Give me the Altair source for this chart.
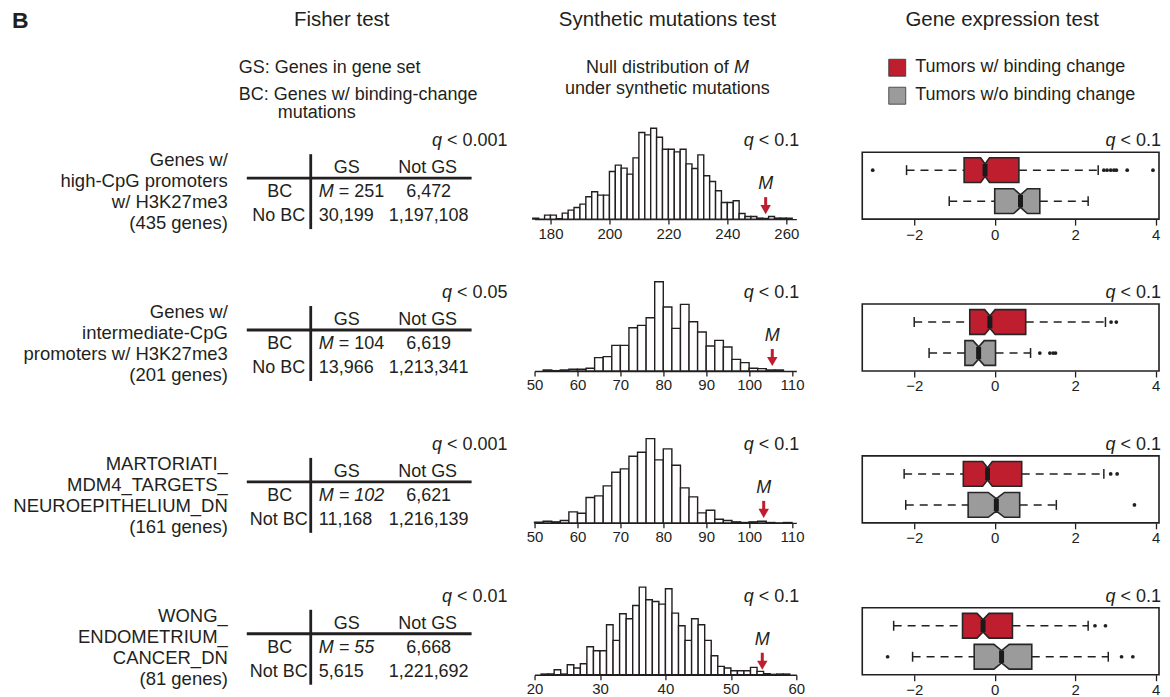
import altair as alt
import pandas as pd

FONT = "Liberation Sans"
RED = "#BE1E2D"
GRAY = "#9B9B9B"
INK = "#231F20"

# ---------------- data ----------------
row_labels = [
    "Genes w/\nhigh-CpG promoters\nw/ H3K27me3\n(435 genes)",
    "Genes w/\nintermediate-CpG\npromoters w/ H3K27me3\n(201 genes)",
    "MARTORIATI_\nMDM4_TARGETS_\nNEUROEPITHELIUM_DN\n(161 genes)",
    "WONG_\nENDOMETRIUM_\nCANCER_DN\n(81 genes)",
]
fisher_q = ["0.001", "0.05", "0.001", "0.01"]
nobc_label = ["No BC", "No BC", "Not BC", "Not BC"]
M_values = [251, 104, 102, 55]
M_italic = [False, False, True, True]
bc_notgs = [6472, 6619, 6621, 6668]
nobc_gs = [30199, 13966, 11168, 5615]
nobc_notgs = [1197108, 1213341, 1216139, 1221692]

synth_q = ["0.1", "0.1", "0.1", "0.1"]
expr_q = ["0.1", "0.1", "0.1", "0.1"]

hist_start = [174, 52, 50, 21]
hist_binw = [2, 2, 2, 1]
hist_counts = [
    [3, 0, 12, 12, 1, 18, 27, 35, 45, 67, 82, 72, 72, 143, 162, 153, 135, 184, 260, 253,
     273, 246, 210, 210, 202, 210, 166, 152, 193, 130, 113, 85, 50, 50, 55, 17, 8, 8, 3, 2,
     8, 3, 3, 3],
    [3, 1, 3, 5, 5, 8, 40, 43, 77, 77, 130, 137, 160, 268, 192, 128, 200, 148, 117, 75,
     92, 72, 35, 25, 8, 7, 3, 3],
    [2, 5, 3, 7, 33, 29, 76, 81, 111, 152, 162, 200, 212, 253, 189, 222, 173, 105, 78, 30,
     38, 11, 7, 3, 1, 3, 5, 1, 0, 1],
    [2, 2, 15, 2, 30, 20, 33, 84, 72, 72, 150, 103, 183, 168, 208, 263, 225, 220, 212, 258,
     185, 147, 103, 168, 150, 103, 57, 25, 20, 12, 12, 12, 22, 10, 3, 1, 2, 2],
]
hist_domain = [[174.6, 263.4], [50, 111], [50, 111], [20, 60]]
hist_ticks = [[180, 200, 220, 240, 260],
              [50, 60, 70, 80, 90, 100, 110],
              [50, 60, 70, 80, 90, 100, 110],
              [20, 30, 40, 50, 60]]
arrow_pos = [253, 105.4, 103.4, 54.8]

# boxplot stats: whisker_lo, q1, median, q3, whisker_hi, notch half-width
box_bc = [
    [-2.19, -0.76, -0.24, 0.60, 2.57, 0.11],
    [-2.00, -0.62, -0.12, 0.77, 2.75, 0.13],
    [-2.25, -0.78, -0.18, 0.67, 2.71, 0.12],
    [-2.51, -0.80, -0.29, 0.44, 2.32, 0.15],
]
box_nobc = [
    [-1.13, 0.00, 0.64, 1.12, 2.32, 0.17],
    [-1.63, -0.74, -0.40, 0.02, 0.89, 0.14],
    [-2.21, -0.66, 0.04, 0.62, 1.53, 0.20],
    [-2.04, -0.51, 0.17, 0.92, 2.82, 0.19],
]
out_bc = [[-3.03, 2.71, 2.79, 2.88, 2.96, 3.02, 3.29, 3.93],
          [2.89, 3.02], [2.88, 3.04], [2.49, 2.75]]
out_nobc = [[], [1.12, 1.37, 1.45, 1.51], [3.47], [-2.66, 3.15, 3.43]]

legend_labels = ["Tumors w/ binding change", "Tumors w/o binding change"]

# ---------------- layout ----------------
COLW = [173, 222, 262, 297]
ROWH = 67
HEADH = 59
ONE = pd.DataFrame({"d": [0]})

AW = {" ": 278, ",": 278, ".": 278, "<": 584, "=": 584, "M": 833, "N": 722, "q": 556,
      "a": 556, "b": 556, "c": 500, "d": 556, "e": 556, "f": 278, "g": 556, "h": 556,
      "i": 222, "j": 222, "k": 500, "l": 222, "m": 833, "n": 556, "o": 556, "p": 556,
      "r": 333, "s": 500, "t": 278, "u": 556, "v": 500, "w": 722, "x": 500, "y": 500,
      "z": 500}
for ch in "0123456789":
    AW[ch] = 556


def tw(s, size):
    return sum(AW.get(c, 556) for c in s) * size / 1000.0


def T(text, x, y, size=18, align="left", style="normal", weight="normal",
      baseline="middle", color=INK, lineHeight=None):
    kw = dict(align=align, baseline=baseline, fontSize=size, fontStyle=style,
              fontWeight=weight, font=FONT, color=color)
    if lineHeight:
        kw["lineBreak"] = "\n"
        kw["lineHeight"] = lineHeight
    return alt.Chart(pd.DataFrame({"t": [text]})).mark_text(**kw).encode(
        x=alt.value(x), y=alt.value(y), text="t:N")


def qlabel(q, xr, y, size=18):
    rest = "< " + q
    return [T(rest, xr, y, size=size, align="right"),
            T("q", xr - tw(rest, size) - tw(" ", size), y, size=size,
              align="right", style="italic")]


def hrule(x1, x2, y, w=2.8):
    return alt.Chart(ONE).mark_rule(color=INK, strokeWidth=w).encode(
        x=alt.value(x1), x2=alt.value(x2), y=alt.value(y))


def vrule(x, y1, y2, w=2.8):
    return alt.Chart(ONE).mark_rule(color=INK, strokeWidth=w).encode(
        x=alt.value(x), y=alt.value(y1), y2=alt.value(y2))


def fmt(n):
    return f"{n:,}"


# ---------------- header ----------------
def header_cells():
    h1 = alt.layer(T("B", 4, 13, size=23, weight="bold")).properties(
        width=COLW[0], height=HEADH)
    h2 = alt.layer(
        T("Fisher test", 95, 12, size=20.5, align="center"),
        T("GS: Genes in gene set", -8, 60),
        T("BC: Genes w/ binding-change", -8, 87),
        T("mutations", 31, 105),
    ).properties(width=COLW[1], height=HEADH)
    base = "Null distribution of"
    tot = tw(base + " M", 18)
    x0 = 133 - tot / 2
    h3 = alt.layer(
        T("Synthetic mutations test", 133, 12, size=20.5, align="center"),
        T(base, x0, 60),
        T("M", x0 + tw(base + " ", 18), 60, style="italic"),
        T("under synthetic mutations", 133, 81, align="center"),
    ).properties(width=COLW[2], height=HEADH)
    sq = []
    for lab, col, yy in zip(legend_labels, [RED, GRAY], [59.5, 87.5]):
        sq.append(alt.Chart(ONE).mark_square(size=289, fill=col, stroke="#333",
                                             strokeWidth=0.8, opacity=1).encode(
            x=alt.value(35), y=alt.value(yy)))
        sq.append(T(lab, 53, yy - 1))
    h4 = alt.layer(
        T("Gene expression test", 140, 12, size=20.5, align="center"), *sq
    ).properties(width=COLW[3], height=HEADH)
    return [h1, h2, h3, h4]


def label_panel(r):
    return alt.layer(
        T(row_labels[r], 220, 8, size=18.5, align="right", lineHeight=21)
    ).properties(width=COLW[0], height=ROWH)


def fisher_panel(r):
    L = qlabel(fisher_q[r], 261, -11)
    L += [hrule(0, 225, 26), vrule(64, 2, 77)]
    L += [T("GS", 100, 16, align="center"), T("Not GS", 181, 16, align="center"),
          T("BC", 33, 40, align="center"), T(nobc_label[r], 32, 64, align="center")]
    m = M_values[r]
    if M_italic[r]:
        L.append(T(f"M = {m}", 72, 40, style="italic"))
    else:
        L.append(T("M", 72, 40, style="italic"))
        L.append(T(f"= {m}", 72 + tw("M ", 18), 40))
    L += [T(fmt(bc_notgs[r]), 182, 40, align="center"),
          T(fmt(nobc_gs[r]), 72, 64),
          T(fmt(nobc_notgs[r]), 182, 64, align="center")]
    return alt.layer(*L).properties(width=COLW[1], height=ROWH)


def hist_panel(r):
    counts = hist_counts[r]
    w = hist_binw[r]
    df = pd.DataFrame({"start": [hist_start[r] + i * w for i in range(len(counts))],
                       "count": counts})
    df["end"] = df["start"] + w
    df["base"] = 0
    xs = alt.Scale(domain=hist_domain[r], nice=False, zero=False)
    ys = alt.Scale(domain=[0, 201], nice=False, zero=True)
    ax = alt.Axis(values=hist_ticks[r], title=None, grid=False, domain=True,
                  domainColor=INK, domainWidth=1.4, tickColor=INK, tickWidth=1.3,
                  tickSize=5, labelFontSize=15, labelColor=INK, labelPadding=2,
                  labelFlush=False, labelOverlap=False, format="d", labelFont=FONT)
    bars = alt.Chart(df).mark_rect(fill="white", stroke=INK, strokeWidth=1.4).encode(
        x=alt.X("start:Q", scale=xs, axis=ax), x2="end:Q",
        y=alt.Y("count:Q", scale=ys, axis=None), y2="base:Q")
    adf = pd.DataFrame({"start": [arrow_pos[r]]})
    shaft = alt.Chart(adf).mark_rule(color=RED, strokeWidth=3).encode(
        x=alt.X("start:Q", scale=xs, axis=ax), y=alt.value(45), y2=alt.value(55))
    head = alt.Chart(adf).mark_point(shape="triangle-down", filled=True, fill=RED,
                                     color=RED, size=110, opacity=1).encode(
        x=alt.X("start:Q", scale=xs, axis=ax), y=alt.value(57.5))
    mlab = alt.Chart(adf).mark_text(fontStyle="italic", fontSize=18, font=FONT,
                                    color=INK, baseline="middle").encode(
        x=alt.X("start:Q", scale=xs, axis=ax), y=alt.value(32), text=alt.value("M"))
    L = [bars, shaft, head, mlab] + qlabel(synth_q[r], 265, -11)
    return alt.layer(*L).properties(width=COLW[2], height=ROWH)


def box_panel(r):
    xs = alt.Scale(domain=[-3.29, 4.08], nice=False, zero=False)
    ys = alt.Scale(domain=[0.42, 2.58], nice=False, zero=False)
    ax = alt.Axis(values=[-2, 0, 2, 4], title=None, grid=False, domain=False,
                  tickColor=INK, tickWidth=1.3, tickSize=6, labelFontSize=15,
                  labelColor=INK, labelPadding=2, labelFlush=False, format="d",
                  labelFont=FONT)
    HH, NH, CAP = 0.4, 0.2, 0.16
    area_rows, wh_rows, cap_rows, med_rows, out_rows = [], [], [], [], []
    for g, c, st, outs in [("bc", 2.0, box_bc[r], out_bc[r]),
                           ("nobc", 1.0, box_nobc[r], out_nobc[r])]:
        wl, q1, md, q3, wh, n = st
        for xv, h in [(q1, HH), (md - n, HH), (md, NH), (md + n, HH), (q3, HH)]:
            area_rows.append({"g": g, "x": xv, "y": c - h, "ye": c + h})
        wh_rows += [{"x": wl, "xe": q1, "y": c}, {"x": q3, "xe": wh, "y": c}]
        cap_rows += [{"x": wl, "y": c - CAP, "ye": c + CAP},
                     {"x": wh, "y": c - CAP, "ye": c + CAP}]
        med_rows.append({"x": md, "y": c - NH, "ye": c + NH})
        out_rows += [{"x": o, "y": c} for o in outs]
    X = alt.X("x:Q", scale=xs, axis=ax)
    Y = alt.Y("y:Q", scale=ys, axis=None)
    whisk = alt.Chart(pd.DataFrame(wh_rows)).mark_rule(
        color=INK, strokeWidth=1.5, strokeDash=[8, 6]).encode(x=X, x2="xe:Q", y=Y)
    caps = alt.Chart(pd.DataFrame(cap_rows)).mark_rule(
        color=INK, strokeWidth=1.5).encode(x=X, y=Y, y2="ye:Q")
    area = alt.Chart(pd.DataFrame(area_rows)).mark_area(
        stroke="#262626", strokeWidth=1.6, opacity=1, interpolate="linear").encode(
        x=X, y=Y, y2="ye:Q",
        color=alt.Color("g:N", scale=alt.Scale(domain=["bc", "nobc"], range=[RED, GRAY]),
                        legend=None),
        detail="g:N")
    med = alt.Chart(pd.DataFrame(med_rows)).mark_rule(
        color="#1A1A1A", strokeWidth=5).encode(x=X, y=Y, y2="ye:Q")
    outl = alt.Chart(pd.DataFrame(out_rows)).mark_circle(
        size=14, color=INK, opacity=1).encode(x=X, y=Y)
    L = [whisk, caps, area, med, outl] + qlabel(expr_q[r], 299, -11)
    return alt.layer(*L).properties(
        width=COLW[3], height=ROWH,
        view=alt.ViewBackground(stroke=INK, strokeWidth=1.6))


cells = header_cells()
for r in range(4):
    cells += [label_panel(r), fisher_panel(r), hist_panel(r), box_panel(r)]

chart = alt.concat(*cells, columns=4, spacing={"row": 85, "column": 66},
                   bounds="flush", align="each").properties(
    padding={"left": 0, "top": 0, "right": 0, "bottom": 0}
).configure(font=FONT).configure_view(stroke=None)

chart.save("out.html", embed_options={"renderer": "svg", "actions": False})
